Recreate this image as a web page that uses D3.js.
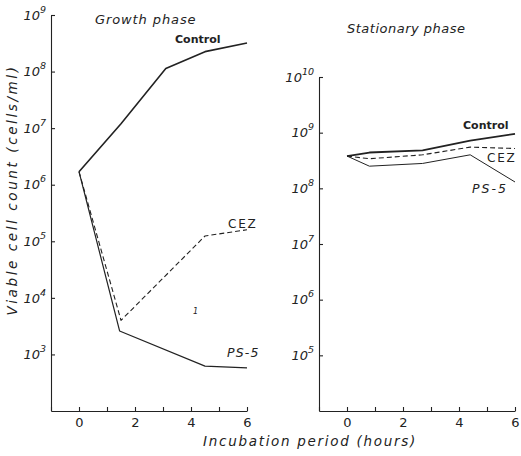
<!DOCTYPE html>
<html><head><meta charset="utf-8">
<script src="https://cdn.jsdelivr.net/npm/d3@7"></script>
<style>body{margin:0;background:#fff}text{fill:#222}</style>
</head><body>
<script>
// ---- data ----
const growthControlHours = [0, 1.5, 3.1, 4.5, 6];
const growthControl = [1.7e6, 1.2e7, 1.13e8, 2.25e8, 3.2e8];
const growthCEZHours = [0, 1.5, 4.5, 6];
const growthCEZ = [1.7e6, 4.0e3, 1.24e5, 1.6e5];
const growthPS5Hours = [0, 1.45, 4.5, 6];
const growthPS5 = [1.7e6, 2.6e3, 6.2e2, 5.8e2];

const statHours = [0, 0.8, 2.7, 4.4, 6];
const statControl = [3.8e8, 4.4e8, 4.8e8, 7.2e8, 9.5e8];
const statCEZ = [3.8e8, 3.4e8, 4.0e8, 5.5e8, 5.2e8];
const statPS5 = [3.8e8, 2.5e8, 2.8e8, 4.0e8, 1.3e8];

const leftTicks = [1e3, 1e4, 1e5, 1e6, 1e7, 1e8, 1e9];
const rightTicks = [1e5, 1e6, 1e7, 1e8, 1e9, 1e10];
const xTicks = [-1, 0, 1, 2, 3, 4, 5, 6];
const xLabels = [0, 2, 4, 6];

const W = 521, H = 456;
const svg = d3.select("body").append("svg").attr("width", W).attr("height", H);
const ink = "#222";
const font = "'DejaVu Sans', sans-serif";

function panel(cfg) {
  const x = d3.scaleLinear().domain([-1, 6]).range(cfg.xr);
  const y = d3.scaleLog().domain(cfg.yd).range(cfg.yr);
  const ya = svg.append("g").attr("transform", `translate(${cfg.xr[0]},0)`)
    .call(d3.axisLeft(y).tickValues(cfg.yticks).tickSize(-4).tickSizeOuter(0).tickPadding(5).tickFormat(() => ""));
  ya.selectAll("text").each(function(d) {
    const t = d3.select(this).attr("font-size", 13).attr("font-family", font).attr("font-style", "italic").attr("fill", ink);
    t.append("tspan").text("10");
    t.append("tspan").attr("dy", -7).attr("font-size", 9.5).text(Math.round(Math.log10(d)));
  });
  const xa = svg.append("g").attr("transform", `translate(0,${cfg.yr[0]})`)
    .call(d3.axisBottom(x).tickValues(xTicks).tickSize(-4).tickSizeOuter(0).tickPadding(7)
      .tickFormat(d => xLabels.includes(d) ? d : ""));
  xa.selectAll("text").attr("font-size", 13).attr("font-family", font).attr("fill", ink);
  svg.selectAll(".domain, .tick line").attr("stroke", ink).attr("stroke-width", 1.1);
  const line = d3.line().x(d => x(d[0])).y(d => y(d[1]));
  cfg.series.forEach(s => {
    svg.append("path").datum(d3.zip(s.h, s.v)).attr("d", line)
      .attr("fill", "none").attr("stroke", ink).attr("stroke-width", s.w)
      .attr("stroke-dasharray", s.dash || null).attr("stroke-linejoin", "round");
  });
  return { x, y };
}

panel({
  xr: [51, 247], yd: [1e2, 1e9], yr: [411, 15], yticks: leftTicks,
  series: [
    { h: growthControlHours, v: growthControl, w: 1.6 },
    { h: growthCEZHours, v: growthCEZ, w: 1.1, dash: "5,3" },
    { h: growthPS5Hours, v: growthPS5, w: 1.2 }
  ]
});
panel({
  xr: [319, 515], yd: [1e4, 1e10], yr: [411, 77], yticks: rightTicks,
  series: [
    { h: statHours, v: statControl, w: 1.8 },
    { h: statHours, v: statCEZ, w: 1.1, dash: "5,3" },
    { h: statHours, v: statPS5, w: 1.0 }
  ]
});

function label(txt, x, y, opts = {}) {
  return svg.append("text").attr("x", x).attr("y", y).text(txt)
    .attr("font-family", font).attr("font-size", opts.size || 12)
    .attr("font-style", opts.italic === false ? "normal" : "italic")
    .attr("letter-spacing", opts.ls || 0)
    .attr("text-anchor", opts.anchor || "start").attr("fill", ink);
}
label("Growth phase", 95, 24, { size: 13, ls: 0.9 });
label("Control", 175, 43, { size: 11, ls: 0, italic: false }).attr("font-weight", 600);
label("CEZ", 228, 228, { size: 12, ls: 1.8, italic: false });
label("PS-5", 227, 357, { size: 12.5, ls: 1.2 });
label("Stationary phase", 347, 33, { size: 13, ls: 0.5 });
label("Control", 463, 129, { size: 11, ls: 0, italic: false }).attr("font-weight", 600);
label("CEZ", 487, 162, { size: 12, ls: 1.8, italic: false });
label("PS-5", 472, 193, { size: 12.5, ls: 2 });
label("1", 193, 314, { size: 8 }).attr("fill", "#555");
label("Incubation period (hours)", 310, 446, { size: 13.5, ls: 1.7, anchor: "middle" });
label("Viable cell count (cells/ml)", 0, 0, { size: 13.5, ls: 2.6, anchor: "middle" })
  .attr("transform", "translate(17,190) rotate(-90)");
</script>
</body></html>
